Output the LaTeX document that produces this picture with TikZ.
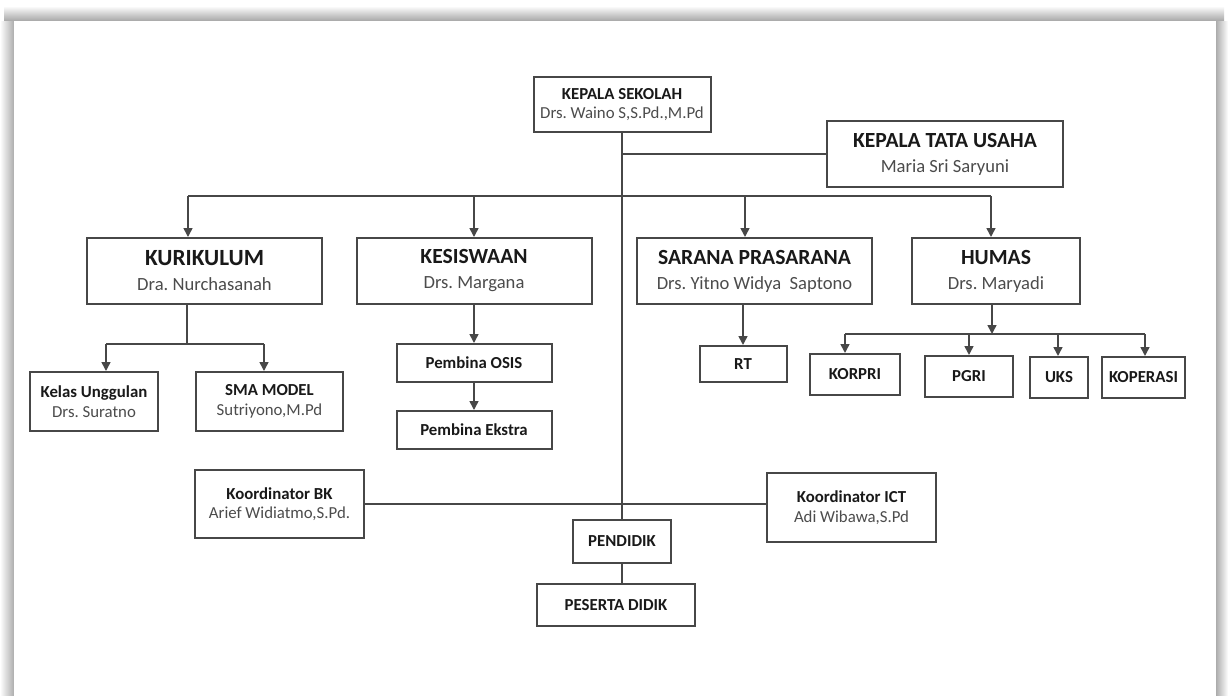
\documentclass[tikz,border=0pt]{standalone}
\usepackage{fontspec}
\setmainfont{Carlito}
\usepackage{xcolor}
\usetikzlibrary{arrows.meta,positioning,calc}
\frenchspacing

\definecolor{boxline}{gray}{0.28}
\definecolor{inkdark}{gray}{0.1}
\definecolor{inkname}{gray}{0.3}
\newcommand{\bigttl}[2][10.8]{{\fontsize{#1}{12.5}\selectfont\bfseries\color{inkdark}#2}}
\newcommand{\smallttl}[1]{{\bfseries\color{inkdark}#1}}

\begin{document}
\begin{tikzpicture}[x=0.5pt, y=-0.5pt,
    unit/.style={draw=boxline, line width=1pt, fill=white, align=center, inner sep=0pt, text=inkname},
    bigunit/.style={unit, font=\fontsize{9.3}{12.5}\selectfont},
    smallunit/.style={unit, font=\fontsize{8.4}{9.8}\selectfont},
    link/.style={draw=boxline, line width=0.8pt},
    arr/.style={link, -{Triangle[width=4.5pt,length=4.5pt]}}]
    % Page frame with shadow
    \useasboundingbox (0,0) rectangle (1228,696);
    \shade[top color=white, bottom color=gray!70] (4,6) rectangle (1224,21);
    \shade[left color=white, right color=gray!65] (0,21) rectangle (14,696);
    \shade[left color=gray!65, right color=white] (1216,21) rectangle (1228,696);
    \fill[white] (14,21) rectangle (1216,696);

    % Head and administration
    \node[smallunit, minimum width=88.5pt, minimum height=27.5pt] (kepsek) at (622,104.5) {\smallttl{KEPALA SEKOLAH}\\Drs. Waino S,S.Pd.,M.Pd};
    \node[bigunit, minimum width=118pt, minimum height=33pt] (tu) at (945,154) {\bigttl{KEPALA TATA USAHA}\\Maria Sri Saryuni};

    % Vice principals
    \node[bigunit, minimum width=117.5pt, minimum height=33pt] (kur) at (204.5,271) {\bigttl[11.6]{KURIKULUM}\\Dra. Nurchasanah};
    \node[bigunit, minimum width=117.5pt, minimum height=33pt] (kes) at (474,271) {\bigttl{KESISWAAN}\\Drs. Margana};
    \node[bigunit, minimum width=117.5pt, minimum height=33pt] (sar) at (754.5,271) {\bigttl{SARANA PRASARANA}\\Drs. Yitno Widya\ \ Saptono};
    \node[bigunit, minimum width=84pt, minimum height=33pt] (hum) at (996,271) {\bigttl{HUMAS}\\Drs. Maryadi};

    % Units below
    \node[smallunit, minimum width=64pt, minimum height=29.5pt] (kelas) at (94,401.5) {\smallttl{Kelas Unggulan}\\Drs. Suratno};
    \node[smallunit, minimum width=73.5pt, minimum height=29.5pt] (sma) at (269.5,401.5) {\smallttl{SMA MODEL}\\Sutriyono,M.Pd};
    \node[smallunit, minimum width=77.5pt, minimum height=19pt] (osis) at (474,363) {\smallttl{Pembina OSIS}};
    \node[smallunit, minimum width=77.5pt, minimum height=19pt] (ekstra) at (474,430) {\smallttl{Pembina Ekstra}};
    \node[smallunit, minimum width=43.5pt, minimum height=18pt] (rt) at (743,364) {\smallttl{RT}};
    \node[smallunit, minimum width=45pt, minimum height=20.5pt] (korpri) at (855,374.5) {\smallttl{KORPRI}};
    \node[smallunit, minimum width=44pt, minimum height=20.5pt] (pgri) at (969,376.5) {\smallttl{PGRI}};
    \node[smallunit, minimum width=29pt, minimum height=20.5pt] (uks) at (1059,377.5) {\smallttl{UKS}};
    \node[smallunit, minimum width=41.5pt, minimum height=20.5pt] (kop) at (1143.5,377.5) {\smallttl{KOPERASI}};

    % Coordinators, teachers, students
    \node[smallunit, minimum width=84.5pt, minimum height=34pt] (bk) at (279.5,504) {\smallttl{Koordinator BK}\\Arief Widiatmo,S.Pd.};
    \node[smallunit, minimum width=84.5pt, minimum height=34.5pt] (ict) at (851.5,507.5) {\smallttl{Koordinator ICT}\\Adi Wibawa,S.Pd};
    \node[smallunit, minimum width=49pt, minimum height=21.5pt] (pendidik) at (622,541.5) {\smallttl{PENDIDIK}};
    \node[smallunit, minimum width=79pt, minimum height=21pt] (peserta) at (616,605) {\smallttl{PESERTA DIDIK}};

    % Main line
    \draw[link] (kepsek.south) -- (pendidik.north);
    \draw[link] (tu.west) -- (tu.west -| kepsek.south);
    \draw[link] (bk.east) -- (bk.east -| ict.west);
    \draw[link] (pendidik.south) -- (pendidik.south |- peserta.north);

    % Branch to vice principals
    \coordinate (jkur) at (188,196);
    \coordinate (jkes) at (474,196);
    \coordinate (jsar) at (745,196);
    \coordinate (jhum) at (991,196);
    \draw[link] (jkur) -- (jhum);
    \draw[arr] (jkur) -- (jkur |- kur.north);
    \draw[arr] (jkes) -- (jkes |- kes.north);
    \draw[arr] (jsar) -- (jsar |- sar.north);
    \draw[arr] (jhum) -- (jhum |- hum.north);

    % Kurikulum branch
    \coordinate (skur) at (187,344);
    \coordinate (jkelas) at (106,344);
    \coordinate (jsma) at (264,344);
    \draw[link] (kur.south -| skur) -- (skur);
    \draw[link] (jkelas) -- (jsma);
    \draw[arr] (jkelas) -- (jkelas |- kelas.north);
    \draw[arr] (jsma) -- (jsma |- sma.north);

    % Kesiswaan and sarana branches
    \draw[arr] (kes.south) -- (osis.north);
    \draw[arr] (osis.south) -- (ekstra.north);
    \draw[arr] (sar.south -| rt.north) -- (rt.north);

    % Humas branch
    \coordinate (shum) at (992,334);
    \coordinate (jkorpri) at (845,334);
    \coordinate (jpgri) at (969,334);
    \coordinate (juks) at (1058,334);
    \coordinate (jkop) at (1145,334);
    \draw[arr] (hum.south -| shum) -- (shum);
    \draw[link] (jkorpri) -- (jkop);
    \draw[arr] (jkorpri) -- (jkorpri |- korpri.north);
    \draw[arr] (jpgri) -- (jpgri |- pgri.north);
    \draw[arr] (juks) -- (juks |- uks.north);
    \draw[arr] (jkop) -- (jkop |- kop.north);
\end{tikzpicture}
\end{document}
